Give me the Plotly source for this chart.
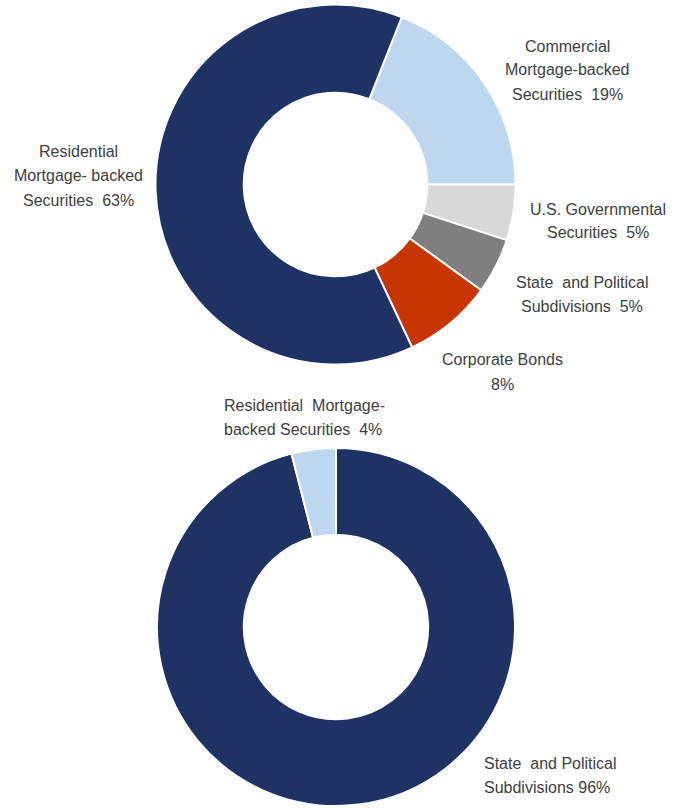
import plotly.graph_objects as go

W, H = 686, 808

# Top donut data
top_labels = ["Commercial Mortgage-backed Securities", "U.S. Governmental Securities",
              "State and Political Subdivisions", "Corporate Bonds",
              "Residential Mortgage-backed Securities"]
top_values = [19, 5, 5, 8, 63]
top_colors = ["#BDD7EE", "#D9D9D9", "#7F7F7F", "#C73500", "#1F3264"]
top_texts = ["Commercial<br>Mortgage-backed<br>Securities  19%",
             "U.S. Governmental<br>Securities  5%",
             "State  and Political<br>Subdivisions  5%",
             "Corporate Bonds<br>8%",
             "Residential<br>Mortgage- backed<br>Securities  63%"]
top_text_pos = [(567, 70), (598, 221), (582, 294), (502, 372), (78, 176)]

# Bottom donut data
bot_labels = ["State and Political Subdivisions", "Residential Mortgage-backed Securities"]
bot_values = [96, 4]
bot_colors = ["#1F3264", "#BDD7EE"]
bot_texts = ["State  and Political<br>Subdivisions 96%",
             "Residential  Mortgage-<br>backed Securities  4%"]
bot_text_pos = [(482, 775), (222, 417)]


def dom(cx, cy, r):
    return dict(x=[(cx - r) / W, (cx + r) / W], y=[1 - (cy + r) / H, 1 - (cy - r) / H])


fig = go.Figure()
fig.add_trace(go.Pie(
    labels=top_labels, values=top_values, hole=0.51, sort=False,
    direction="clockwise", rotation=21.6,
    marker=dict(colors=top_colors, line=dict(color="white", width=2)),
    textinfo="none", hoverinfo="label+percent", showlegend=False,
    domain=dom(335.5, 184.5, 180),
))
fig.add_trace(go.Pie(
    labels=bot_labels, values=bot_values, hole=0.515, sort=False,
    direction="clockwise", rotation=0,
    marker=dict(colors=bot_colors, line=dict(color="white", width=2)),
    textinfo="none", hoverinfo="label+percent", showlegend=False,
    domain=dom(336, 627, 179),
))

font = dict(family="Liberation Sans, Arial", size=16, color="#404040")
LINE = 24
annotations = []


def add_block(text, x, y, anchor):
    lines = text.split("<br>")
    n = len(lines)
    for i, ln in enumerate(lines):
        yy = y + (i - (n - 1) / 2) * LINE
        annotations.append(dict(text=ln, x=x / W, y=1 - yy / H, xref="paper", yref="paper",
                                xanchor=anchor, yanchor="middle", align=anchor,
                                showarrow=False, font=font))


for t, (x, y) in zip(top_texts, top_text_pos):
    add_block(t, x, y, "center")
for t, (x, y) in zip(bot_texts, bot_text_pos):
    add_block(t, x, y, "left")

fig.update_layout(
    width=W, height=H, margin=dict(l=0, r=0, t=0, b=0),
    paper_bgcolor="white", plot_bgcolor="white",
    annotations=annotations,
)
fig.write_html("out.html", config={"displayModeBar": False},
               post_script="document.body.style.margin='0';document.body.style.overflow='hidden';")
